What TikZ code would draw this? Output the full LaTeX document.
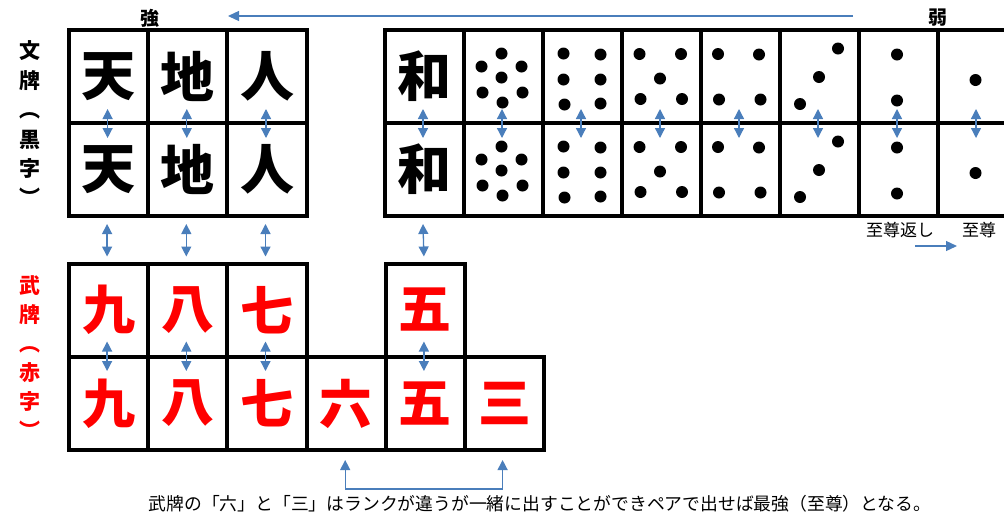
\documentclass[tikz,border=0pt]{standalone}
\usepackage{fontspec}
\newfontfamily\cjk{Noto Sans CJK JP}
\usetikzlibrary{arrows.meta,calc}
\definecolor{arrowblue}{RGB}{74,126,187}
\definecolor{tilered}{RGB}{255,0,0}
\tikzset{
  cell/.style={draw, line width=4pt, minimum width=79.2pt, minimum height=93pt, inner sep=0pt,
    font=\cjk\bfseries\fontsize{54}{54}\selectfont},
  dcell/.style={cell, minimum width=79pt},
  redtile/.style={cell, text=tilered, font=\cjk\bfseries\fontsize{53}{53}\selectfont},
  pair/.style={draw=arrowblue, line width=1.3pt,
    {Triangle[width=10pt,length=10pt]}-{Triangle[width=10pt,length=10pt]}},
  oneway/.style={draw=arrowblue, line width=1.3pt, -{Triangle[width=10pt,length=11pt]}},
  pip/.style={fill=black},
  sidelabel/.style={font=\cjk\bfseries\fontsize{21}{29.4}\selectfont, align=center, inner sep=0pt},
  headlabel/.style={font=\cjk\bfseries\fontsize{19}{19}\selectfont, inner sep=0pt},
  smalllabel/.style={font=\cjk\fontsize{17}{17}\selectfont, inner sep=0pt},
}
\begin{document}
\begin{tikzpicture}[x=1pt,y=-1pt]
\useasboundingbox (0,0) rectangle (1004,515);
\clip (0,0) rectangle (1004,515);

% side labels
\node[sidelabel] (bunlbl) at (30,123.5) {文\\牌\\︵\\黒\\字\\︶};
\node[sidelabel, text=tilered, font=\cjk\bfseries\fontsize{21}{29}\selectfont] (bulbl) at (30,357.5) {武\\牌\\︵\\赤\\字\\︶};

% strength labels and arrow
\node[headlabel] (strong) at (150,18) {強};
\node[headlabel] (weak) at (938,18) {弱};
\coordinate (arrS) at (853,16);
\coordinate (arrE) at (228,16);
\draw[oneway] (arrS) -- (arrE);

% left civil grid
\node[cell] (t1) at (108.6,76.5) {天};
\node[cell] (t2) at (187.8,76.5) {地};
\node[cell] (t3) at (267.0,76.5) {人};
\node[cell] (u1) at (108.6,169.5) {天};
\node[cell] (u2) at (187.8,169.5) {地};
\node[cell] (u3) at (267.0,169.5) {人};

% right civil grid
\node[dcell] (d1t) at (424.5,76.5) {和};
\node[dcell] (d1b) at (424.5,169.5) {和};
\foreach \i/\cx in {2/503.5,3/582.5,4/661.5,5/740.5,6/819.5,7/898.5,8/977.5}{
  \node[dcell] (d\i t) at (\cx,76.5) {};
  \node[dcell] (d\i b) at (\cx,169.5) {};
}
% pips
\foreach \c in {d2t,d2b}
  \foreach \p in {(-2,-23),(-22,-10),(18,-10),(-2,1),(-21,16),(19,16),(-1,26)}
    \fill[pip] ([shift={\p}]\c.center) circle (6);
\foreach \c in {d3t,d3b}
  \foreach \p in {(-19,-23),(18,-22),(-19,3),(18,3),(-18,28),(18,27)}
    \fill[pip] ([shift={\p}]\c.center) circle (6);
\foreach \c in {d4t,d4b}
  \foreach \p in {(-22,-22.5),(19.5,-22.5),(-1.5,2),(-21,22.5),(20.5,22.5)}
    \fill[pip] ([shift={\p}]\c.center) circle (6);
\foreach \c in {d5t,d5b}
  \foreach \p in {(-22.5,-22.5),(18.5,-22),(-21.5,23),(20,23)}
    \fill[pip] ([shift={\p}]\c.center) circle (6);
\foreach \c in {d6t,d6b}
  \foreach \p in {(18.5,-28),(-0.5,0.5),(-19.5,27.5)}
    \fill[pip] ([shift={\p}]\c.center) circle (6);
\foreach \c in {d7t,d7b}
  \foreach \p in {(-1.5,-22),(-1.5,24)}
    \fill[pip] ([shift={\p}]\c.center) circle (6);
\foreach \c in {d8t,d8b}
  \foreach \p in {(-2,3.5)}
    \fill[pip] ([shift={\p}]\c.center) circle (6);

% military grid
\node[redtile] (r1) at (108.6,310) {九};
\node[redtile] (r2) at (187.8,310) {八};
\node[redtile] (r3) at (267.0,310) {七};
\node[redtile] (r5) at (425.4,310) {五};
\node[redtile] (s1) at (108.6,403.5) {九};
\node[redtile] (s2) at (187.8,403.5) {八};
\node[redtile] (s3) at (267.0,403.5) {七};
\node[redtile] (s4) at (346.2,403.5) {六};
\node[redtile] (s5) at (425.4,403.5) {五};
\node[redtile] (s6) at (504.6,403.5) {三};

% pair arrows within civil grids
\foreach \a/\b in {t1/u1,t2/u2,t3/u3}
  \draw[pair] ([xshift=-1pt,yshift=16pt]\a.south) -- ([xshift=-1pt,yshift=-17pt]\b.north);
\foreach \i in {1,...,8}
  \draw[pair] ([xshift=-1.5pt,yshift=16pt]d\i t.south) -- ([xshift=-1.5pt,yshift=-17pt]d\i b.north);

% arrows between civil and military
\foreach \a/\b in {u1/r1,u2/r2,u3/r3,d1b/r5}
  \draw[pair] ([xshift=-1.5pt,yshift=-6pt]\a.south) -- ([xshift=-1.5pt,yshift=5pt]\b.north);

% pair arrows within military grid
\foreach \a/\b in {r1/s1,r2/s2,r3/s3,r5/s5}
  \draw[pair] ([xshift=-1.5pt,yshift=17pt]\a.south) -- ([xshift=-1.5pt,yshift=-16pt]\b.north);

% six-three bracket
\draw[pair] ([xshift=-1pt,yshift=-8pt]s4.south) -- ++(0,29) -| ([xshift=-2pt,yshift=-8pt]s6.south);

% supreme labels
\node[smalllabel] (ret) at (900,230) {至尊返し};
\node[smalllabel] (sup) at (979,230) {至尊};
\coordinate (supS) at (915,246);
\coordinate (supE) at (957,246);
\draw[oneway] (supS) -- (supE);

% note
\node[smalllabel, font=\cjk\fontsize{17.8}{17.8}\selectfont] (note) at (540,504)
  {武牌の「六」と「三」はランクが違うが一緒に出すことができペアで出せば最強（至尊）となる。};
\end{tikzpicture}
\end{document}
